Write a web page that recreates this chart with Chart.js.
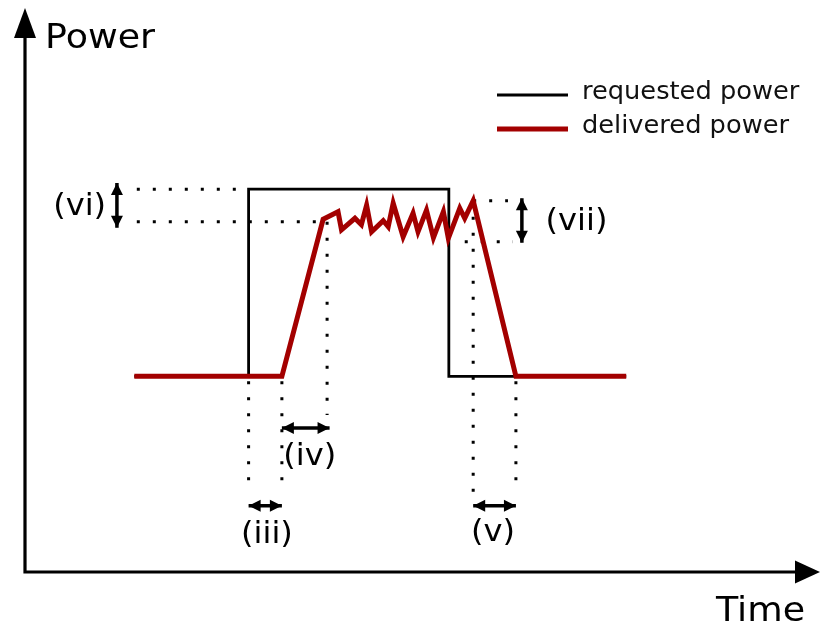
<!DOCTYPE html>
<html>
<head>
<meta charset="utf-8">
<script src="https://cdn.jsdelivr.net/npm/chart.js@4.4.1/dist/chart.umd.min.js"></script>
<style>
  html, body { margin: 0; padding: 0; background: #fff; }
  #wrap { width: 823px; height: 625px; }
</style>
</head>
<body>
<div id="wrap"><canvas id="powerChart"></canvas></div>
<script>
// Time axis runs 0..160, power axis 0..112 (arbitrary units)
const requestedT = [22, 45, 45, 85.3, 85.3, 121];
const requestedP = [39, 39, 76.3, 76.3, 39, 39];

const deliveredT = [22, 51.7, 60, 63.0, 63.7, 66.4, 67.7, 68.75, 69.76, 72.1, 73.1, 74.1,
  76.1, 78.1, 79.1, 80.8, 82.2, 84.2, 85.2, 87.5, 88.5, 90.2, 98.8, 121];
const deliveredP = [39, 39, 70.3, 71.8, 68.2, 70.5, 69.2, 73.1, 67.8, 70.0, 68.8, 73.5,
  66.8, 71.5, 67.8, 72.1, 66.6, 71.8, 66.5, 72.5, 70.5, 74.0, 39, 39];

// dotted helper lines, each [[t, p], [t, p]]
const guideLines = [
  [[22.5, 76.3], [44, 76.3]],
  [[22.5, 69.8], [60, 69.8]],
  [[90.2, 74], [97.2, 74]],
  [[88.5, 65.8], [98.2, 65.8]],
  [[45, 38], [45, 15.7]],
  [[51.7, 38], [51.7, 15.7]],
  [[60.8, 69.8], [60.8, 31.3]],
  [[90.2, 74], [90.2, 15.7]],
  [[98.8, 38], [98.8, 15.7]]
];

// double-headed interval markers and their labels
const spans = [
  [[18.5, 77.5], [18.5, 68.6]],
  [[100, 74.5], [100, 65.6]],
  [[45, 13.2], [51.7, 13.2]],
  [[51.7, 28.7], [61.3, 28.7]],
  [[90.2, 13.2], [98.8, 13.2]]
];
const spanLabels = ['(vi)', '(vii)', '(iii)', '(iv)', '(v)'];
const labelAt = [[11, 72.7], [111, 69.7], [48.7, 7.4], [57.3, 22.9], [94.2, 7.8]];

const seriesNames = ['requested power', 'delivered power'];
const RED = '#a30000';
const FONT = '"DejaVu Sans", Verdana, sans-serif';
const STRETCH = 1.07; // text is drawn slightly wide

const zip = (ts, ps) => ts.map((t, i) => ({ x: t, y: ps[i] }));
const seg = s => s.map(p => ({ x: p[0], y: p[1] }));

const datasets = [
  {
    label: seriesNames[1], data: zip(deliveredT, deliveredP),
    borderColor: RED, borderWidth: 5, borderJoinStyle: 'miter', order: 0
  },
  {
    label: seriesNames[0], data: zip(requestedT, requestedP),
    borderColor: '#000', borderWidth: 2.8, borderJoinStyle: 'miter', order: 1
  }
];
guideLines.forEach(g => datasets.push({
  data: seg(g), borderColor: '#000', borderWidth: 3,
  borderDash: [3, 13], borderCapStyle: 'butt', order: 2
}));
spans.forEach(s => datasets.push({
  data: seg(s), borderColor: '#000', borderWidth: 3.5, order: 2, span: true
}));

function head(ctx, x, y, ang, len, half) {
  const c = Math.cos(ang), s = Math.sin(ang);
  ctx.beginPath();
  ctx.moveTo(x, y);
  ctx.lineTo(x - len * c + half * s, y - len * s - half * c);
  ctx.lineTo(x - len * c - half * s, y - len * s + half * c);
  ctx.closePath();
  ctx.fill();
}

function text(ctx, str, x, y) {
  ctx.save();
  ctx.translate(x, y);
  ctx.scale(STRETCH, 1);
  ctx.fillText(str, 0, 0);
  ctx.restore();
}

const sketchPlugin = {
  id: 'sketch',
  afterDatasetsDraw(chart) {
    const { ctx, chartArea: a, scales } = chart;
    ctx.save();
    ctx.fillStyle = '#000';
    ctx.strokeStyle = '#000';

    // arrow heads on the interval markers
    chart.data.datasets.forEach((ds, i) => {
      if (!ds.span) return;
      const pts = chart.getDatasetMeta(i).data;
      const p0 = pts[0], p1 = pts[1];
      const ang = Math.atan2(p1.y - p0.y, p1.x - p0.x);
      head(ctx, p1.x, p1.y, ang, 12, 6);
      head(ctx, p0.x, p0.y, ang + Math.PI, 12, 6);
    });

    // axes with arrows
    ctx.lineWidth = 3.2;
    ctx.beginPath();
    ctx.moveTo(a.left, a.top + 20);
    ctx.lineTo(a.left, a.bottom);
    ctx.lineTo(a.right - 20, a.bottom);
    ctx.stroke();
    head(ctx, a.left, a.top - 2, -Math.PI / 2, 30, 11);
    head(ctx, a.right, a.bottom, 0, 25, 11.5);

    // axis titles
    ctx.font = '34px ' + FONT;
    ctx.textAlign = 'left';
    ctx.textBaseline = 'alphabetic';
    text(ctx, 'Power', a.left + 20, a.top + 38);
    text(ctx, 'Time', 716, 621);

    // interval labels
    ctx.font = '30px ' + FONT;
    ctx.textAlign = 'center';
    ctx.textBaseline = 'middle';
    spanLabels.forEach((txt, i) => {
      const x = scales.x.getPixelForValue(labelAt[i][0]);
      const y = scales.y.getPixelForValue(labelAt[i][1]);
      text(ctx, txt, x, y);
    });

    // legend
    ctx.font = '24px ' + FONT;
    ctx.textAlign = 'left';
    const rows = [chart.data.datasets[1], chart.data.datasets[0]];
    rows.forEach((ds, i) => {
      const y = 95 + i * 34;
      ctx.strokeStyle = ds.borderColor;
      ctx.lineWidth = ds.borderWidth;
      ctx.beginPath();
      ctx.moveTo(497, y);
      ctx.lineTo(568, y);
      ctx.stroke();
      ctx.fillStyle = '#111';
      text(ctx, ds.label, 582, y - 2);
    });
    ctx.restore();
  }
};

new Chart(document.getElementById('powerChart'), {
  type: 'scatter',
  data: { datasets },
  options: {
    responsive: true,
    maintainAspectRatio: false,
    animation: false,
    showLine: true,
    elements: { point: { radius: 0, hoverRadius: 0 }, line: { tension: 0, fill: false } },
    layout: { padding: { left: 25, right: 3, top: 10, bottom: 53 } },
    scales: {
      x: { type: 'linear', min: 0, max: 160, display: false },
      y: { type: 'linear', min: 0, max: 112, display: false }
    },
    plugins: { legend: { display: false }, tooltip: { enabled: false } }
  },
  plugins: [sketchPlugin]
});
</script>
</body>
</html>
